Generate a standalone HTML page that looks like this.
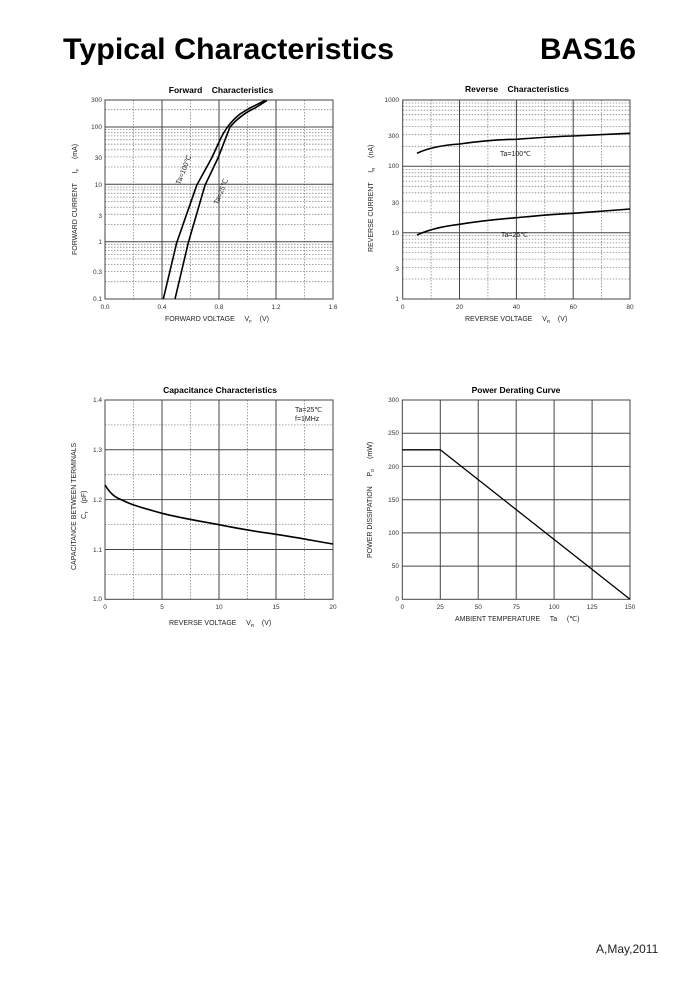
<!DOCTYPE html>
<html><head><meta charset="utf-8"><style>
html,body{margin:0;padding:0;background:#fff;}
svg{display:block;font-family:"Liberation Sans",Arial,sans-serif;}
text{white-space:pre}
.s{stroke:#444;stroke-width:1;fill:none}
.d{stroke:#888;stroke-width:0.8;stroke-dasharray:1.5 1.5;fill:none}
.c{stroke:#000;stroke-width:1.6;fill:none}
.t{font-size:6.5px;fill:#333}
.a{font-size:7px;fill:#222}
.h{font-size:8.5px;font-weight:bold;fill:#000}
</style></head><body>
<svg width="700" height="1000" viewBox="0 0 700 1000" xmlns="http://www.w3.org/2000/svg" xml:space="preserve">
<text x="63" y="59" font-size="30" font-weight="bold" textLength="331" lengthAdjust="spacingAndGlyphs">Typical Characteristics</text>
<text x="540" y="59" font-size="30" font-weight="bold" textLength="96" lengthAdjust="spacingAndGlyphs">BAS16</text>
<text x="596" y="953" font-size="12" fill="#222">A,May,2011</text>

<!-- Forward -->
<text x="221" y="93" class="h" text-anchor="middle">Forward    Characteristics</text>
<path class="d" d="M133.5 100V299M190.5 100V299M247.5 100V299M304.5 100V299
M105 281.7H333M105 271.6H333M105 264.5H333M105 258.9H333M105 254.4H333M105 250.6H333M105 247.2H333M105 244.3H333
M105 224.4H333M105 214.3H333M105 207.2H333M105 201.6H333M105 197.1H333M105 193.3H333M105 189.9H333M105 187H333
M105 167H333M105 156.9H333M105 149.8H333M105 144.2H333M105 139.7H333M105 135.9H333M105 132.5H333M105 129.6H333
M105 109.7H333"/>
<path class="s" d="M162 100V299M219 100V299M276 100V299M105 241.7H333M105 184.3H333M105 127H333"/>
<rect x="105" y="100" width="228" height="199" class="s"/>
<path class="c" d="M163.3 299 L176.7 242.7 L196.7 185.3 L211.7 158 L220 140 C224 131 230 122 240 114 L250 108 L265 100.5"/>
<path class="c" d="M175 299 L188.3 242.7 L205 185.3 L218 158 L230 127 C236 120 244 113 255 108 L267 100.5"/>
<text class="a" transform="translate(180,185) rotate(-68)">Ta=100℃</text>
<text class="a" transform="translate(218,205) rotate(-68)">Ta=25℃</text>
<g class="t" text-anchor="end">
<text x="102" y="102">300</text><text x="102" y="129">100</text><text x="102" y="160">30</text><text x="102" y="187">10</text><text x="102" y="218">3</text><text x="102" y="244">1</text><text x="102" y="274">0.3</text><text x="102" y="301">0.1</text></g>
<g class="t" text-anchor="middle">
<text x="105" y="309">0.0</text><text x="162" y="309">0.4</text><text x="219" y="309">0.8</text><text x="276" y="309">1.2</text><text x="333" y="309">1.6</text></g>
<text class="a" x="165" y="321">FORWARD VOLTAGE     V<tspan font-size="4.5" dy="2">F</tspan><tspan dy="-2">    (V)</tspan></text>
<text class="a" transform="translate(77,255) rotate(-90)">FORWARD CURRENT     I<tspan font-size="4.5" dy="2">F</tspan><tspan dy="-2">     (mA)</tspan></text>

<!-- Reverse -->
<text x="517" y="92" class="h" text-anchor="middle">Reverse    Characteristics</text>
<path class="d" d="M431.1 100V299M487.9 100V299M544.8 100V299M601.6 100V299
M402.7 279H630M402.7 267.4H630M402.7 259.1H630M402.7 252.6H630M402.7 247.4H630M402.7 242.9H630M402.7 239.1H630M402.7 235.7H630
M402.7 212.7H630M402.7 201.1H630M402.7 192.8H630M402.7 186.3H630M402.7 181.1H630M402.7 176.6H630M402.7 172.8H630M402.7 169.4H630
M402.7 146.3H630M402.7 134.7H630M402.7 126.4H630M402.7 119.9H630M402.7 114.7H630M402.7 110.2H630M402.7 106.4H630M402.7 103H630"/>
<path class="s" d="M459.5 100V299M516.4 100V299M573.2 100V299M402.7 232.7H630M402.7 166.3H630"/>
<rect x="402.7" y="100" width="227.3" height="199" class="s"/>
<path class="c" d="M417 153.3 C430 147 445 145 459.5 144 C480 141 500 139.3 516.4 139.3 C540 137.5 555 136.5 573.2 136 C595 135 612 134 630 133.3"/>
<path class="c" d="M417 235 C430 229 445 226 459.5 224.3 C480 221 500 219 516.4 217.7 C540 215.5 555 214 573.2 213.3 C595 211.5 612 210.5 630 209"/>
<text class="a" x="500" y="156">Ta=100℃</text>
<text class="a" x="501" y="237">Ta=25℃</text>
<g class="t" text-anchor="end">
<text x="399" y="102">1000</text><text x="399" y="138">300</text><text x="399" y="168">100</text><text x="399" y="205">30</text><text x="399" y="235">10</text><text x="399" y="271">3</text><text x="399" y="301">1</text></g>
<g class="t" text-anchor="middle">
<text x="402.7" y="309">0</text><text x="459.5" y="309">20</text><text x="516.4" y="309">40</text><text x="573.2" y="309">60</text><text x="630" y="309">80</text></g>
<text class="a" x="465" y="321">REVERSE VOLTAGE     V<tspan font-size="4.5" dy="2">R</tspan><tspan dy="-2">    (V)</tspan></text>
<text class="a" transform="translate(373,252) rotate(-90)">REVERSE CURRENT     I<tspan font-size="4.5" dy="2">R</tspan><tspan dy="-2">     (nA)</tspan></text>

<!-- Capacitance -->
<text x="220" y="393" class="h" text-anchor="middle">Capacitance Characteristics</text>
<path class="d" d="M133.5 400V599.3M190.5 400V599.3M247.5 400V599.3M304.5 400V599.3M105 424.9H333M105 474.7H333M105 524.6H333M105 574.4H333"/>
<path class="s" d="M162 400V599.3M219 400V599.3M276 400V599.3M105 449.8H333M105 499.6H333M105 549.5H333"/>
<rect x="105" y="400" width="228" height="199.3" class="s"/>
<path class="c" d="M105 485 C110 493 114 497 122 500 C128 503 133 505 140 507 C150 510 156 511.5 162 513.3 C185 519 200 521 219 524.7 C245 530 260 532 276 534.3 C300 538 315 541 333 544"/>
<text class="a" x="295" y="412">Ta=25℃</text>
<text class="a" x="295" y="421">f=1MHz</text>
<g class="t" text-anchor="end">
<text x="102" y="402">1.4</text><text x="102" y="452">1.3</text><text x="102" y="502">1.2</text><text x="102" y="552">1.1</text><text x="102" y="601">1.0</text></g>
<g class="t" text-anchor="middle">
<text x="105" y="609">0</text><text x="162" y="609">5</text><text x="219" y="609">10</text><text x="276" y="609">15</text><text x="333" y="609">20</text></g>
<text class="a" x="169" y="625">REVERSE VOLTAGE     V<tspan font-size="4.5" dy="2">R</tspan><tspan dy="-2">    (V)</tspan></text>
<text class="a" transform="translate(76,570) rotate(-90)">CAPACITANCE BETWEEN TERMINALS</text>
<text class="a" transform="translate(86,519) rotate(-90)">C<tspan font-size="4.5" dy="2">T</tspan><tspan dy="-2">    (pF)</tspan></text>

<!-- Power -->
<text x="516" y="393" class="h" text-anchor="middle">Power Derating Curve</text>
<path class="s" d="M440.3 400V599.3M478.2 400V599.3M516.2 400V599.3M554.1 400V599.3M592.1 400V599.3M402.3 433.2H630M402.3 466.4H630M402.3 499.7H630M402.3 532.9H630M402.3 566.1H630"/>
<rect x="402.3" y="400" width="227.7" height="199.3" class="s"/>
<path class="c" d="M402.3 449.8H440.3L630 599.3" style="stroke-width:1.3"/>
<g class="t" text-anchor="end">
<text x="399" y="402">300</text><text x="399" y="435">250</text><text x="399" y="469">200</text><text x="399" y="502">150</text><text x="399" y="535">100</text><text x="399" y="568">50</text><text x="399" y="601">0</text></g>
<g class="t" text-anchor="middle">
<text x="402.3" y="609">0</text><text x="440.3" y="609">25</text><text x="478.2" y="609">50</text><text x="516.2" y="609">75</text><text x="554.1" y="609">100</text><text x="592.1" y="609">125</text><text x="630" y="609">150</text></g>
<text class="a" x="455" y="621">AMBIENT TEMPERATURE     Ta     (℃)</text>
<text class="a" transform="translate(372,558) rotate(-90)">POWER DISSIPATION     P<tspan font-size="4.5" dy="2">D</tspan><tspan dy="-2">     (mW)</tspan></text>
</svg>
</body></html>
